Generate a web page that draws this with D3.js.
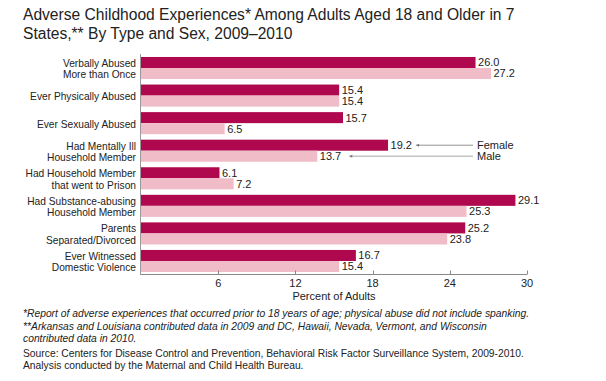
<!DOCTYPE html>
<html>
<head>
<meta charset="utf-8">
<script src="https://cdn.jsdelivr.net/npm/d3@7"></script>
<style>
  body { margin: 0; background: #fff; }
  svg text { font-family: "Liberation Sans", Arial, sans-serif; fill: #222; }
</style>
</head>
<body>
<div id="chart"></div>
<script>
// data
const categories = [
  ["Verbally Abused", "More than Once"],
  ["Ever Physically Abused"],
  ["Ever Sexually Abused"],
  ["Had Mentally Ill", "Household Member"],
  ["Had Household Member", "that went to Prison"],
  ["Had Substance-abusing", "Household Member"],
  ["Parents", "Separated/Divorced"],
  ["Ever Witnessed", "Domestic Violence"]
];
const female = [26.0, 15.4, 15.7, 19.2, 6.1, 29.1, 25.2, 16.7];
const male = [27.2, 15.4, 6.5, 13.7, 7.2, 25.3, 23.8, 15.4];
const ticks = [6, 12, 18, 24, 30];
const series = ["Female", "Male"];

const titleLines = [
  "Adverse Childhood Experiences* Among Adults Aged 18 and Older in 7",
  "States,** By Type and Sex, 2009\u20132010"
];
const notes = [
  "*Report of adverse experiences that occurred prior to 18 years of age; physical abuse did not include spanking.",
  "**Arkansas and Louisiana contributed data in 2009 and DC, Hawaii, Nevada, Vermont, and Wisconsin",
  "contributed data in 2010."
];
const source = [
  "Source: Centers for Disease Control and Prevention, Behavioral Risk Factor Surveillance System, 2009-2010.",
  "Analysis conducted by the Maternal and Child Health Bureau."
];

let width = 606, height = 381;
let colors = { Female: "#b0084f", Male: "#f0bcc8" };

let svg = d3.select("#chart").append("svg")
  .attr("width", width)
  .attr("height", height);

// title
svg.append("g").selectAll("text")
  .data(titleLines).enter().append("text")
  .attr("x", 23)
  .attr("y", (d, i) => 20 + i * 19)
  .style("font-size", "15.6px")
  .text(d => d);

let x = d3.scaleLinear().domain([0, 30]).range([141, 527]);
let y = d3.scaleBand()
  .domain(d3.range(categories.length))
  .range([54.5, 274.5])
  .paddingInner(0.2)
  .paddingOuter(0.09);
let y1 = d3.scaleBand().domain(series).range([0, y.bandwidth()]);

// bars
let groups = svg.selectAll("g.group")
  .data(categories.map((c, i) => ({ i: i, label: c, vals: [female[i], male[i]] })))
  .enter().append("g")
  .attr("class", "group")
  .attr("transform", d => "translate(0," + y(d.i) + ")");

groups.selectAll("rect")
  .data(d => d.vals.map((v, k) => ({ key: series[k], v: v })))
  .enter().append("rect")
  .attr("x", x(0))
  .attr("y", d => y1(d.key))
  .attr("width", d => x(d.v) - x(0))
  .attr("height", y1.bandwidth())
  .attr("fill", d => colors[d.key]);

groups.selectAll("text.val")
  .data(d => d.vals.map((v, k) => ({ key: series[k], v: v })))
  .enter().append("text")
  .attr("class", "val")
  .attr("x", d => x(d.v) + 2.5)
  .attr("y", d => y1(d.key) + y1.bandwidth() / 2)
  .attr("dy", "0.36em")
  .style("font-size", "11px")
  .text(d => d3.format(".1f")(d.v));

// category labels
groups.append("text")
  .attr("text-anchor", "end")
  .style("font-size", "10.2px")
  .each(function(d) {
    let t = d3.select(this);
    let n = d.label.length;
    d.label.forEach((line, j) => {
      t.append("tspan")
        .attr("x", 136)
        .attr("y", y.bandwidth() / 2 + 1 + (j - (n - 1) / 2) * 11.5)
        .attr("dy", "0.36em")
        .text(line);
    });
  });

// axes
let axis = svg.append("g").attr("transform", "translate(0," + 274.5 + ")");
axis.append("line")
  .attr("x1", x(0)).attr("x2", x(30))
  .attr("stroke", "#888");
axis.selectAll("line.tick")
  .data(ticks).enter().append("line")
  .attr("class", "tick")
  .attr("x1", d => Math.round(x(d)) + 0.5).attr("x2", d => Math.round(x(d)) + 0.5)
  .attr("y1", 0).attr("y2", -4)
  .attr("stroke", "#888");
axis.selectAll("text")
  .data(ticks).enter().append("text")
  .attr("x", d => x(d))
  .attr("y", 12.5)
  .attr("text-anchor", "middle")
  .style("font-size", "11px")
  .text(d => d);
svg.append("text")
  .attr("x", (x(0) + x(30)) / 2)
  .attr("y", 300)
  .attr("text-anchor", "middle")
  .style("font-size", "11px")
  .text("Percent of Adults");

svg.append("line")
  .attr("x1", x(0) - 0.5).attr("x2", x(0) - 0.5)
  .attr("y1", 54).attr("y2", 275)
  .attr("stroke", "#999");

// legend callouts pointing at the 4th group
let g4 = y(3);
let legend = [
  { key: "Female", x1: x(female[3]) + 28, stroke: "#777", w: 0.8 },
  { key: "Male", x1: x(male[3]) + 32, stroke: "#c4c4c4", w: 1.3 }
];
legend.forEach(l => {
  let ly = g4 + y1(l.key) + y1.bandwidth() / 2;
  svg.append("line")
    .attr("x1", l.x1).attr("x2", 473)
    .attr("y1", ly).attr("y2", ly)
    .attr("stroke", l.stroke).attr("stroke-width", l.w);
  svg.append("path")
    .attr("d", "M" + l.x1 + "," + ly + "l3,-1.5v3z")
    .attr("fill", "#777");
  svg.append("text")
    .attr("x", 477).attr("y", ly)
    .attr("dy", "0.36em")
    .style("font-size", "11px")
    .text(l.key);
});

// footnotes
svg.append("g").selectAll("text")
  .data(notes).enter().append("text")
  .attr("x", 23)
  .attr("y", (d, i) => 317 + i * 12.5)
  .style("font-size", "10.3px")
  .style("font-style", "italic")
  .text(d => d);
svg.append("g").selectAll("text")
  .data(source).enter().append("text")
  .attr("x", 23)
  .attr("y", (d, i) => 357 + i * 11.5)
  .style("font-size", "10.3px")
  .text(d => d);
</script>
</body>
</html>
